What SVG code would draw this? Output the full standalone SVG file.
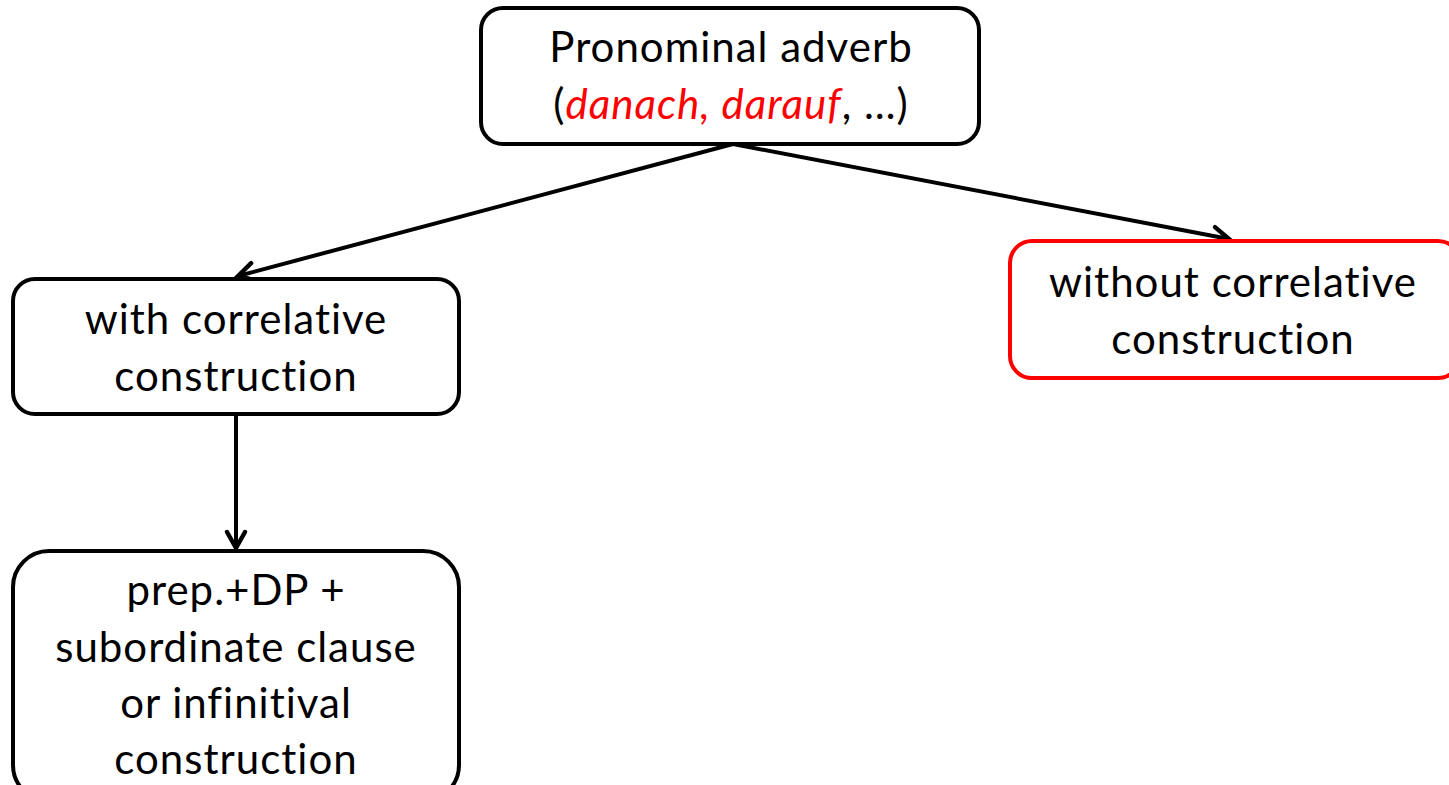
<svg xmlns="http://www.w3.org/2000/svg" width="1449" height="785" viewBox="0 0 1449 785">
  <style>
    .box { fill: #ffffff; stroke: #000000; stroke-width: 4; }
    .box.hl { stroke: #ff0000; }
    .lbl { font-family: Lato, "Open Sans", "Liberation Sans", sans-serif; font-size: 42px; letter-spacing: 1px; font-variant-ligatures: none; fill: #000000; text-anchor: middle; }
    .ex { fill: #ff0000; font-style: italic; }
    .edge { fill: none; stroke: #000000; stroke-width: 4; marker-end: url(#open); }
  </style>
  <defs>
    <marker id="open" viewBox="0 0 12 12" refX="10" refY="6" markerWidth="6" markerHeight="6" orient="auto" markerUnits="strokeWidth">
      <polyline points="2,1.5 10,6 2,10.5" fill="none" stroke="#000000" stroke-width="2.2" stroke-linecap="round" stroke-linejoin="miter"/>
    </marker>
  </defs>

  <rect width="1449" height="785" fill="#ffffff"/>

  <!-- connectors -->
  <g id="connectors">
    <line class="edge" x1="733" y1="144" x2="238" y2="276"/>
    <line class="edge" x1="733" y1="144" x2="1229" y2="239"/>
    <line class="edge" x1="236" y1="414" x2="236" y2="548"/>
  </g>

  <!-- root node -->
  <g id="pronominal-adverb">
    <rect class="box" x="481" y="8" width="498" height="136" rx="22"/>
    <text class="lbl" x="731" y="62">Pronominal adverb</text>
    <text class="lbl" x="731" y="119">(<tspan class="ex">danach, darauf</tspan>, …)</text>
  </g>

  <g id="with-correlative">
    <rect class="box" x="13" y="279" width="446" height="135" rx="22"/>
    <text class="lbl" x="236" y="334">with correlative</text>
    <text class="lbl" x="236" y="391">construction</text>
  </g>

  <g id="without-correlative">
    <rect class="box hl" x="1010" y="241" width="450" height="137" rx="22"/>
    <text class="lbl" x="1233" y="297">without correlative</text>
    <text class="lbl" x="1233" y="354">construction</text>
  </g>

  <g id="prep-dp">
    <rect class="box" x="13" y="551" width="446" height="250" rx="36"/>
    <text class="lbl" x="236" y="605">prep.+DP +</text>
    <text class="lbl" x="236" y="662">subordinate clause</text>
    <text class="lbl" x="236" y="718">or infinitival</text>
    <text class="lbl" x="236" y="774">construction</text>
  </g>
</svg>
